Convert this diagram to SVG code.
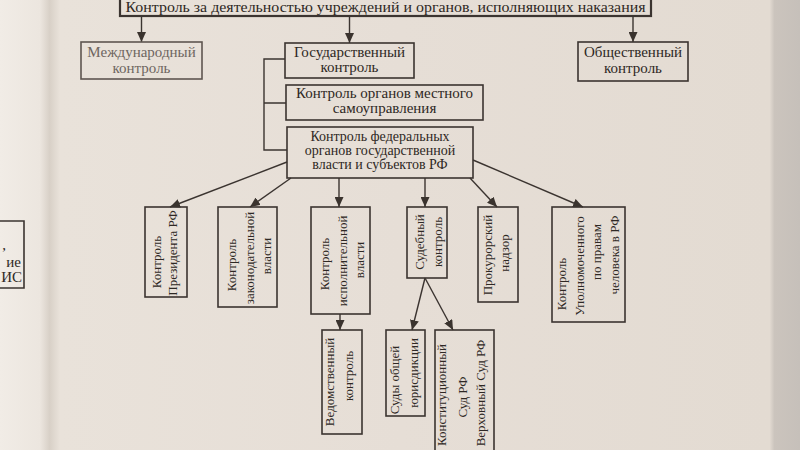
<svg xmlns="http://www.w3.org/2000/svg" width="800" height="450" viewBox="0 0 800 450">
<defs>
<linearGradient id="paper" x1="0" y1="0" x2="800" y2="0" gradientUnits="userSpaceOnUse">
<stop offset="0" stop-color="#f1ece6"/>
<stop offset="0.05" stop-color="#ece6df"/>
<stop offset="0.062" stop-color="#d8d0c7"/>
<stop offset="0.075" stop-color="#e9e2da"/>
<stop offset="0.5" stop-color="#e6ded6"/>
<stop offset="0.962" stop-color="#e3dbd2"/>
<stop offset="0.968" stop-color="#cbc4bd"/>
<stop offset="1" stop-color="#c6c0ba"/>
</linearGradient>
<marker id="arr" markerUnits="userSpaceOnUse" markerWidth="10" markerHeight="9" refX="10" refY="4.5" orient="auto">
<path d="M0,0 L10,4.5 L0,9 z" fill="#3a332e"/>
</marker>
</defs>
<style>
.box{fill:none;stroke:#3b3430;stroke-width:1.6}
.t{font-family:"Liberation Serif","Times New Roman",serif;font-size:15px;fill:#2e2824;text-anchor:middle}
.s{font-size:14px}
.v{font-size:13px}
.ln{stroke:#3b3430;stroke-width:1.4;fill:none}
.arr{marker-end:url(#arr)}
.faded{fill:#6e6660}
.fadedbox{stroke:#5e5650}
</style>
<rect x="0" y="0" width="800" height="450" fill="url(#paper)"/>

<g id="prev-page">
<path class="box" d="M-2,221 H24 V288 H-2"/>
<text class="t" x="4" y="250">,</text>
<text class="t" x="21" y="267" style="text-anchor:end">ие</text>
<text class="t" x="22" y="282" style="text-anchor:end">ИС</text>
</g>

<g id="connectors">
<path class="ln arr" d="M141.5,17 V42"/>
<path class="ln arr" d="M349.5,17 V43"/>
<path class="ln arr" d="M633,17 V42"/>
<path class="ln" d="M285,59 H264 V150 H287 M264,103 H286"/>
<path class="ln arr" d="M287,162 L170,207"/>
<path class="ln arr" d="M291,178 L250,207"/>
<path class="ln arr" d="M339,178 V207"/>
<path class="ln arr" d="M425,178 V207"/>
<path class="ln arr" d="M470,178 L497,207"/>
<path class="ln arr" d="M473,160 L583,207"/>
<path class="ln arr" d="M340,314 V330"/>
<path class="ln arr" d="M425,278 L412,330"/>
<path class="ln arr" d="M425,278 L453,330"/>
</g>

<g id="root">
<rect class="box" x="120" y="-4" width="531" height="20" style="stroke-width:2.2"/>
<text class="t s" x="385.5" y="12" textLength="520" lengthAdjust="spacingAndGlyphs">Контроль за деятельностью учреждений и органов, исполняющих наказания</text>
</g>

<g id="intl">
<rect class="box fadedbox" x="81" y="42" width="121" height="37"/>
<text class="t faded" x="141.5" y="57">Международный</text>
<text class="t faded" x="141.5" y="73">контроль</text>
</g>

<g id="state">
<rect class="box" x="285" y="43" width="129" height="35"/>
<text class="t" x="349.5" y="57">Государственный</text>
<text class="t" x="349.5" y="72">контроль</text>
</g>

<g id="public">
<rect class="box" x="578" y="42" width="110" height="39"/>
<text class="t" x="633" y="57">Общественный</text>
<text class="t" x="633" y="73">контроль</text>
</g>

<g id="local">
<rect class="box" x="286" y="85" width="197" height="35"/>
<text class="t" x="384.5" y="98">Контроль органов местного</text>
<text class="t" x="384.5" y="113">самоуправления</text>
</g>

<g id="federal">
<rect class="box" x="287" y="127" width="186" height="51"/>
<text class="t s" x="380" y="141">Контроль федеральных</text>
<text class="t s" x="380" y="155">органов государственной</text>
<text class="t s" x="380" y="169">власти и субъектов РФ</text>
</g>

<g id="president">
<rect class="box" x="145" y="207" width="42" height="90"/>
<text class="t v" transform="translate(161,262) rotate(-90)">Контроль</text>
<text class="t v" transform="translate(177,253) rotate(-90)">Президента РФ</text>
</g>

<g id="legislative">
<rect class="box" x="218" y="207" width="59" height="100"/>
<text class="t v" transform="translate(236,265) rotate(-90)">Контроль</text>
<text class="t v" transform="translate(254,258) rotate(-90)">законодательной</text>
<text class="t v" transform="translate(271,256) rotate(-90)">власти</text>
</g>

<g id="executive">
<rect class="box" x="311" y="207" width="59" height="107"/>
<text class="t v" transform="translate(329,264) rotate(-90)">Контроль</text>
<text class="t v" transform="translate(347,261) rotate(-90)">исполнительной</text>
<text class="t v" transform="translate(364,260) rotate(-90)">власти</text>
</g>

<g id="judicial">
<rect class="box" x="407" y="207" width="40" height="71"/>
<text class="t v" transform="translate(424,242) rotate(-90)">Судебный</text>
<text class="t v" transform="translate(442,242) rotate(-90)">контроль</text>
</g>

<g id="prosecutor">
<rect class="box" x="478" y="207" width="40" height="95"/>
<text class="t v" transform="translate(492,255) rotate(-90)">Прокурорский</text>
<text class="t v" transform="translate(509,253) rotate(-90)">надзор</text>
</g>

<g id="ombudsman">
<rect class="box" x="552" y="207" width="73" height="115"/>
<text class="t v" transform="translate(566,284) rotate(-90)">Контроль</text>
<text class="t v" transform="translate(584,266) rotate(-90)">Уполномоченного</text>
<text class="t v" transform="translate(601,252) rotate(-90)">по правам</text>
<text class="t v" transform="translate(619,255) rotate(-90)">человека в РФ</text>
</g>

<g id="departmental">
<rect class="box" x="322" y="330" width="40" height="104"/>
<text class="t v" transform="translate(334,382) rotate(-90)">Ведомственный</text>
<text class="t v" transform="translate(353,376) rotate(-90)">контроль</text>
</g>

<g id="general-courts">
<rect class="box" x="386" y="330" width="39" height="86"/>
<text class="t v" transform="translate(399,380) rotate(-90)">Суды общей</text>
<text class="t v" transform="translate(418,373) rotate(-90)">юрисдикции</text>
</g>

<g id="high-courts">
<rect class="box" x="435" y="330" width="59" height="130"/>
<text class="t v" transform="translate(446,395) rotate(-90)">Конституционный</text>
<text class="t v" transform="translate(467,397) rotate(-90)">Суд РФ</text>
<text class="t v" transform="translate(485,393) rotate(-90)">Верховный Суд РФ</text>
</g>
</svg>
